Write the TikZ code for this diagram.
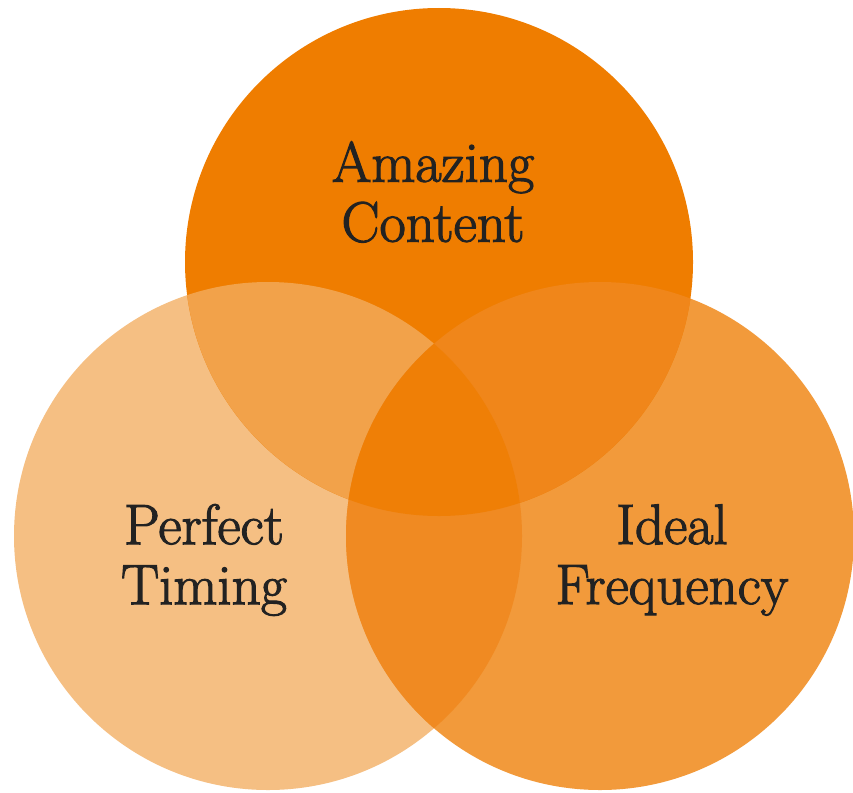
\documentclass[tikz,border=0pt]{standalone}
\usepackage{tikz}
\usepackage{fontspec}
\usetikzlibrary{positioning}
\newfontfamily\vennfont[FakeBold=2]{Latin Modern Roman}
\definecolor{vTop}{HTML}{EF7D00}
\definecolor{vLeft}{HTML}{F5BF83}
\definecolor{vRight}{HTML}{F29A3B}
\definecolor{vTopLeft}{HTML}{F2A24A}
\definecolor{vTopRight}{HTML}{F0861A}
\definecolor{vLeftRight}{HTML}{F08A22}
\definecolor{vAll}{HTML}{EF7F06}
\definecolor{vInk}{HTML}{222222}
\tikzset{
    venntext/.style={text=vInk, align=center, inner sep=0pt,
        font=\vennfont\fontsize{57}{60}\selectfont}
}
\begin{document}
\begin{tikzpicture}[x=1pt, y=-1pt]
    \def \R {254}
    \useasboundingbox (0,0) rectangle (853,792);
    \coordinate (ctop) at (439,262);
    \coordinate (cleft) at (268,536);
    \coordinate (cright) at (600,536);
    % single sets
    \fill[vLeft] (cleft) circle (\R);
    \fill[vRight] (cright) circle (\R);
    \fill[vTop] (ctop) circle (\R);
    % pairs
    \begin{scope}
    \clip (ctop) circle (\R);
    \fill[vTopLeft] (cleft) circle (\R);
    \fill[vTopRight] (cright) circle (\R);
    \end{scope}
    \begin{scope}
    \clip (cleft) circle (\R);
    \fill[vLeftRight] (cright) circle (\R);
    \clip (ctop) circle (\R);
    \fill[vAll] (cright) circle (\R);
    \end{scope}
    % labels
    \node[venntext] (content) at (433,192) {Amazing\\Content};
    \node[venntext] (timing) at (204,560) {Perfect\\Timing};
    \node[venntext] (frequency) at (672,560) {Ideal\\Frequency};
\end{tikzpicture}
\end{document}
